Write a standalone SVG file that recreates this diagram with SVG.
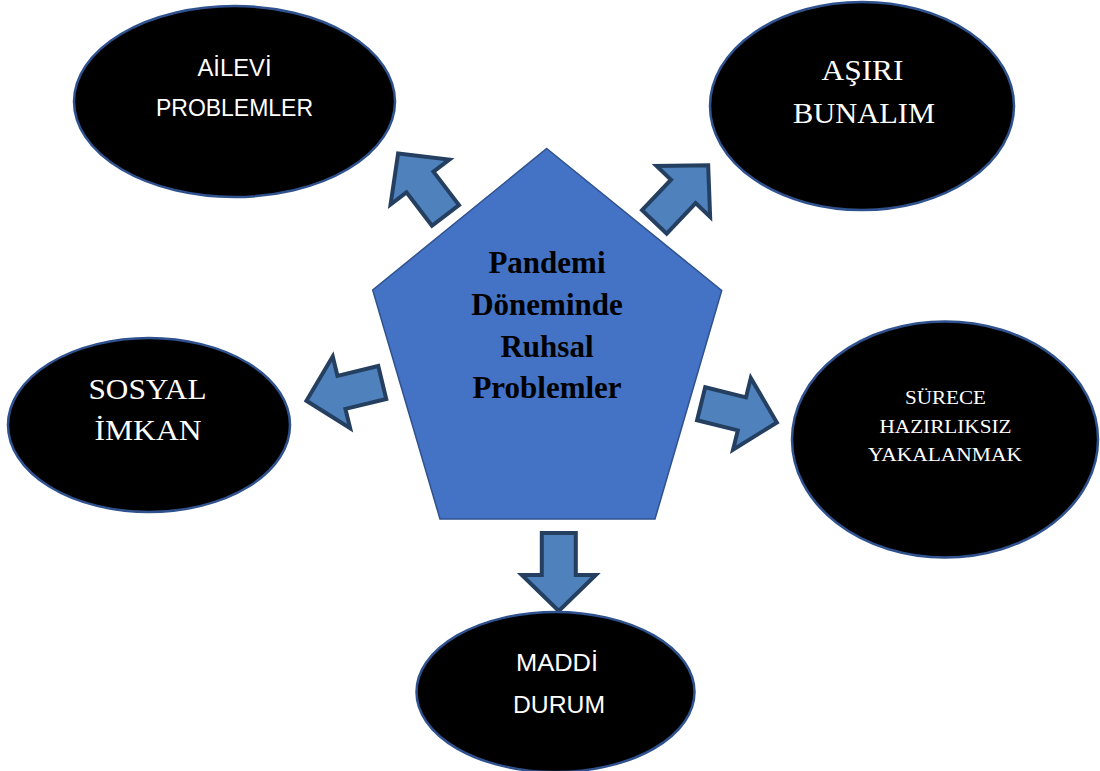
<svg xmlns="http://www.w3.org/2000/svg" xmlns:xlink="http://www.w3.org/1999/xlink" width="1100" height="771" viewBox="0 0 1100 771">
<style>
.ell{fill:#000;stroke:#2F528F;stroke-width:2.5}
.sans{font-family:"Liberation Sans",Arial,sans-serif;fill:#fff;text-anchor:middle}
.serif{font-family:"Liberation Serif","Times New Roman",serif;fill:#fff;text-anchor:middle}
.arrow{fill:#4F81BD;stroke:#243F60;stroke-width:4;stroke-linejoin:miter}
.title{font-family:"Liberation Serif","Times New Roman",serif;font-weight:bold;font-size:31px;fill:#000;text-anchor:middle}
</style>
<defs>
<path id="arr" d="M2,-17 L44,-17 L44,-37 L80,0 L44,37 L44,17 L2,17 Z"/>
</defs>
<rect width="1100" height="771" fill="#fff"/>
<g id="connectors">
<use xlink:href="#arr" class="arrow" transform="translate(446.7,217) rotate(-127.4)"/>
<use xlink:href="#arr" class="arrow" transform="translate(653,223.3) rotate(-46.4)"/>
<use xlink:href="#arr" class="arrow" transform="translate(384.2,382) rotate(166.4)"/>
<use xlink:href="#arr" class="arrow" transform="translate(699.2,403.3) rotate(13.9)"/>
<use xlink:href="#arr" class="arrow" transform="translate(558.8,531) rotate(90)"/>
</g>
<g id="center">
<polygon points="546.7,148.5 721.7,290.5 655,519 440,519 372.7,290" fill="#4472C4" stroke="#2F528F" stroke-width="1.5"/>
<text class="title" x="547" y="272.7">Pandemi</text>
<text class="title" x="547" y="315">Döneminde</text>
<text class="title" x="547" y="357.3">Ruhsal</text>
<text class="title" x="547" y="398.3">Problemler</text>
</g>
<g id="ailevi">
<ellipse class="ell" cx="234.5" cy="101.5" rx="160.5" ry="95.5"/>
<text class="sans" x="234.5" y="76" font-size="23" textLength="74" lengthAdjust="spacingAndGlyphs">AİLEVİ</text>
<text class="sans" x="234.5" y="116" font-size="23" textLength="157" lengthAdjust="spacingAndGlyphs">PROBLEMLER</text>
</g>
<g id="asiri">
<ellipse class="ell" cx="862" cy="106" rx="152" ry="104"/>
<text class="serif" x="862.5" y="80" font-size="29" textLength="82" lengthAdjust="spacingAndGlyphs">AŞIRI</text>
<text class="serif" x="864" y="123.3" font-size="29" textLength="142" lengthAdjust="spacingAndGlyphs">BUNALIM</text>
</g>
<g id="sosyal">
<ellipse class="ell" cx="149" cy="425" rx="141" ry="87"/>
<text class="serif" x="147.5" y="399" font-size="30" textLength="118" lengthAdjust="spacingAndGlyphs">SOSYAL</text>
<text class="serif" x="148" y="440" font-size="30" textLength="107" lengthAdjust="spacingAndGlyphs">İMKAN</text>
</g>
<g id="surece">
<ellipse class="ell" cx="945" cy="439.5" rx="153" ry="118"/>
<text class="serif" x="945.5" y="404.3" font-size="19" textLength="81" lengthAdjust="spacingAndGlyphs">SÜRECE</text>
<text class="serif" x="945.5" y="432.7" font-size="19" textLength="132" lengthAdjust="spacingAndGlyphs">HAZIRLIKSIZ</text>
<text class="serif" x="945" y="461" font-size="19" textLength="154" lengthAdjust="spacingAndGlyphs">YAKALANMAK</text>
</g>
<g id="maddi">
<ellipse class="ell" cx="555.5" cy="692" rx="139" ry="80"/>
<text class="sans" x="557" y="670.7" font-size="24" textLength="82" lengthAdjust="spacingAndGlyphs">MADDİ</text>
<text class="sans" x="559" y="712.7" font-size="24" textLength="92" lengthAdjust="spacingAndGlyphs">DURUM</text>
</g>
</svg>
